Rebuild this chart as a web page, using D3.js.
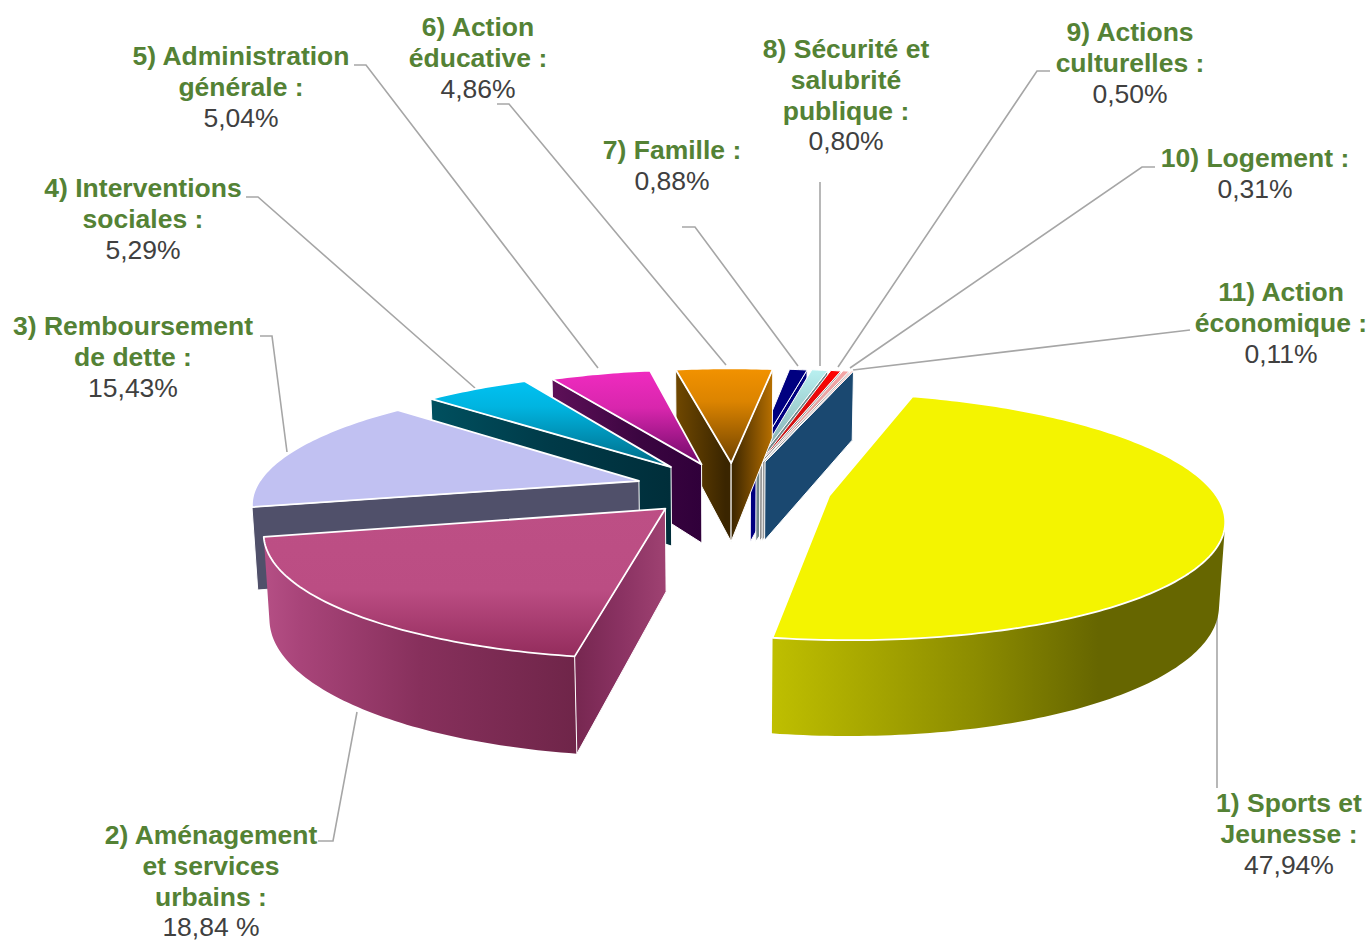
<!DOCTYPE html>
<html><head><meta charset="utf-8">
<script src="https://cdn.jsdelivr.net/npm/d3@7"></script>
<style>html,body{margin:0;background:#fff}svg{display:block}text{font-family:"Liberation Sans",Arial,sans-serif;font-size:26.5px;text-anchor:middle}</style>
</head><body><svg id="c" width="1372" height="940"></svg>
<script>
const categories=["1) Sports et Jeunesse","2) Aménagement et services urbains","3) Remboursement de dette","4) Interventions sociales","5) Administration générale","6) Action éducative","7) Famille","8) Sécurité et salubrité publique","9) Actions culturelles","10) Logement","11) Action économique"];
const values=[47.94,18.84,15.43,5.29,5.04,4.86,0.88,0.80,0.50,0.31,0.11];
const valueLabels=["47,94%","18,84 %","15,43%","5,29%","5,04%","4,86%","0,88%","0,80%","0,50%","0,31%","0,11%"];
const labelLines=[["1) Sports et","Jeunesse :"],["2) Aménagement","et services","urbains :"],["3) Remboursement","de dette :"],["4) Interventions","sociales :"],["5) Administration","générale :"],["6) Action","éducative :"],["7) Famille :"],["8) Sécurité et","salubrité","publique :"],["9) Actions","culturelles :"],["10) Logement :"],["11) Action","économique :"]];
// style / layout tables
const explode=[108,90,88,88,84,84,84,86,88,90,92];
const shiftX=[-2,4,-2,-2,3,8,13,14,14,14,15];
const topStops=[[[0,"#f4f400"],[1,"#f4f400"]],[[0,"#bd4f85"],[.55,"#bb4d83"],[1,"#932c5c"]],[[0,"#c1c1f2"],[1,"#c1c1f2"]],[[0,"#00c2f2"],[.3,"#00b4e0"],[1,"#006a85"]],[[0,"#f02bc0"],[.4,"#d826ad"],[1,"#6f0a68"]],[[0,"#f29200"],[.35,"#dc8400"],[1,"#6e4200"]],[[0,"#000080"],[1,"#000080"]],[[0,"#b8f0f0"],[1,"#7fa5a8"]],[[0,"#ff0000"],[1,"#b02020"]],[[0,"#f5a5a5"],[1,"#c8a0a0"]],[[0,"#f5c0c0"],[1,"#d0b0b0"]]];
const rimStops=[[[0,"#bfbf00"],[.45,"#8c8c00"],[.72,"#666600"],[1,"#666600"]],[[0,"#b54f85"],[.12,"#a84479"],[.5,"#87305c"],[1,"#6f2549"]],[[0,"#50506a"],[1,"#50506a"]],[[0,"#003040"],[1,"#003040"]],[[0,"#35003a"],[1,"#35003a"]],[[0,"#3a2500"],[1,"#3a2500"]],[[0,"#000080"],[1,"#000080"]],[[0,"#70868a"],[1,"#70868a"]],[[0,"#8a8a8a"],[1,"#8a8a8a"]],[[0,"#9a9a9a"],[1,"#9a9a9a"]],[[0,"#1a4870"],[1,"#1a4870"]]];
const startWallStops=[null,[[0,"#762750"],[.5,"#8a3262"],[1,"#9f4272"]],[[0,"#50506a"],[1,"#50506a"]],[[0,"#00505f"],[.5,"#003a48"],[1,"#002e3a"]],[[0,"#5e1058"],[.6,"#3a0540"],[1,"#30003a"]],[[0,"#704800"],[.9,"#3a2500"],[1,"#3a2500"]],null,null,null,null,null];
const endWallStops=[null,null,null,null,null,[[0,"#3a2500"],[1,"#b87000"]],[[0,"#000080"],[1,"#000080"]],[[0,"#70868a"],[1,"#70868a"]],[[0,"#8a8a8a"],[1,"#8a8a8a"]],[[0,"#9a9a9a"],[1,"#9a9a9a"]],[[0,"#1a4870"],[1,"#1a4870"]]];
const labelCenters=[1289,211,133,143,241,478,672,846,1130,1255,1281];
const labelFirstBaseline=[812,844,335,197,65,36,159,58,41,167,301];
const leaders=[[[1217,788],[1217,615]],[[318,841],[333,841],[357,712]],[[260,336],[272,336],[287,452]],[[246,197],[258,197],[475,388]],[[354,65],[366,65],[598,368]],[[497,104],[509,104],[726,365]],[[682,227],[695,227],[798,366]],[[820,182],[820,366]],[[1050,71],[1037,71],[838,367]],[[1155,167],[1142,167],[850,368]],[[1190,330],[853,370]]];
const view={cx:725,cy:488,R:383,k:0.00043,m:0.012,b:0.3077,h:82};
const startDeg=17;

const svg=d3.select("#c"),defs=svg.append("defs");
const line=d3.line();
function proj(X,Y,z){const w=1+view.k*Y-view.m*z;return [view.cx+X/w,view.cy-(view.b*Y+view.h*z)/w];}
const arcs=d3.pie().sort(null).startAngle(startDeg*Math.PI/180).endAngle((startDeg+360)*Math.PI/180)(values);
function grad(id,stops,vertical){const g=defs.append("linearGradient").attr("id",id).attr("x1",0).attr("y1",0).attr("x2",vertical?0:1).attr("y2",vertical?1:0);
 stops.forEach(s=>g.append("stop").attr("offset",s[0]).attr("stop-color",s[1]));return `url(#${id})`;}
// leader lines
svg.append("g").selectAll("path").data(leaders).join("path").attr("d",d=>line(d)).attr("fill","none").attr("stroke","#a6a6a6").attr("stroke-width",1.6);
// slices, far ones first, yellow last
const order=[6,7,8,9,10,5,4,3,2,1,0];
const g=svg.append("g");
order.forEach(i=>{
 const a=arcs[i],mid=(a.startAngle+a.endAngle)/2,e=explode[i];
 const ox=e*Math.sin(mid)+shiftX[i],oy=e*Math.cos(mid);
 const rim=t=>[ox+view.R*Math.sin(t),oy+view.R*Math.cos(t)];
 const n=Math.max(2,Math.ceil((a.endAngle-a.startAngle)*180/Math.PI));
 const ts=d3.range(n+1).map(j=>a.startAngle+(a.endAngle-a.startAngle)*j/n);
 const topArc=ts.map(t=>proj(...rim(t),0)),botArc=ts.map(t=>proj(...rim(t),-1));
 const A=proj(ox,oy,0),Ab=proj(ox,oy,-1);
 const topPoly=[A,...topArc];
 const area=p=>d3.polygonArea(p);
 // outer wall: only the viewer-facing run of segments
 const vis=d3.range(n).filter(j=>area([topArc[j],topArc[j+1],botArc[j+1],botArc[j]])>0);
 if(vis.length){
  const j0=vis[0],j1=vis[vis.length-1]+1;
  g.append("path").attr("d",line([...topArc.slice(j0,j1+1),...botArc.slice(j0,j1+1).reverse()])+"Z").attr("fill",grad("rim"+i,rimStops[i],false));
 }
 const sw=[A,topArc[0],botArc[0],Ab];
 if(area(sw)>0&&startWallStops[i]) g.append("path").attr("d",line(sw)+"Z").attr("fill",grad("sw"+i,startWallStops[i],false)).attr("stroke","#fff").attr("stroke-width",1);
 const ew=[A,topArc[n],botArc[n],Ab];
 if(area(ew)<0&&endWallStops[i]) g.append("path").attr("d",line(ew)+"Z").attr("fill",grad("ew"+i,endWallStops[i],false)).attr("stroke","#fff").attr("stroke-width",1);
 g.append("path").attr("d",line(topPoly)+"Z").attr("fill",grad("top"+i,topStops[i],true)).attr("stroke","#fff").attr("stroke-width",i<6?1.8:1).attr("stroke-linejoin","round");
});
// labels
const lab=svg.append("g");
const gap=30.8;
labelLines.forEach((ls,i)=>{
 const x=labelCenters[i];
 ls.forEach((t,j)=>lab.append("text").attr("x",x).attr("y",labelFirstBaseline[i]+j*gap).attr("fill","#548235").attr("font-weight","bold").text(t));
 lab.append("text").attr("x",x).attr("y",Math.min(935.5,labelFirstBaseline[i]+ls.length*gap)).attr("fill","#404040").text(valueLabels[i]);
});
</script></body></html>
